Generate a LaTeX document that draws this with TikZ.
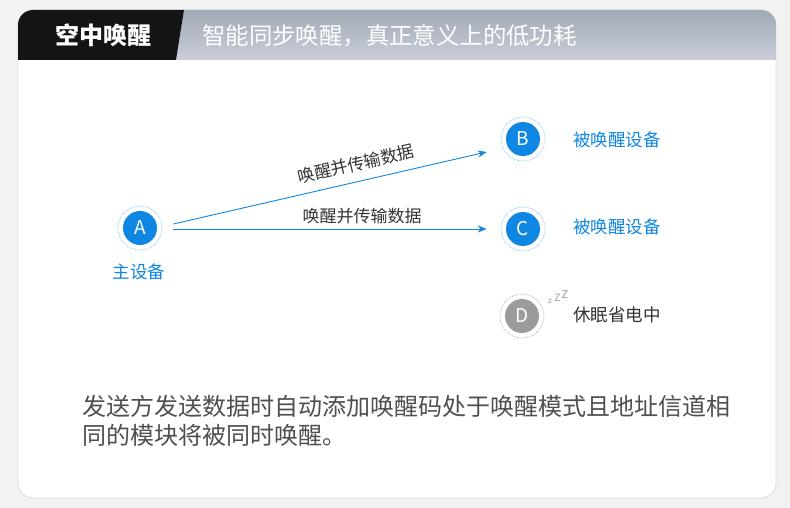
\documentclass[tikz,border=0pt]{standalone}
\usepackage{fontspec}
\setmainfont{Noto Sans CJK SC}
\newfontfamily\cjk{Noto Sans CJK SC}
\usetikzlibrary{arrows.meta,calc}
\definecolor{bgc}{HTML}{F2F2F2}
\definecolor{cardline}{HTML}{DCDCDC}
\definecolor{hdtop}{HTML}{A0A9B5}
\definecolor{hdbot}{HTML}{CACFD9}
\definecolor{blu}{HTML}{0F86E2}
\definecolor{blulite}{HTML}{7CBDF0}
\definecolor{darktxt}{HTML}{333333}
\definecolor{bodytxt}{HTML}{4F4F4F}
\definecolor{sleepc}{HTML}{9B9B9B}
\definecolor{sleepring}{HTML}{A8A8A8}
\tikzset{
  devnode/.style={circle,fill=blu,text=white,minimum size=34pt,inner sep=0pt,font=\fontsize{19}{19}\selectfont},
  ringnode/.style={circle,draw=blulite,densely dotted,line width=0.7pt,minimum size=44pt,inner sep=0pt},
  sleepnode/.style={devnode,fill=sleepc},
  sleepringnode/.style={ringnode,draw=sleepring},
  bluelabel/.style={text=blu,font=\fontsize{17.5}{17.5}\selectfont,inner sep=0pt},
  graylabel/.style={text=darktxt,font=\fontsize{17.5}{17.5}\selectfont,inner sep=0pt},
  arrlabel/.style={text=darktxt,font=\fontsize{17}{17}\selectfont,inner sep=0pt},
  arr/.style={draw=blu,line width=0.9pt,-{Stealth[length=9pt,width=7pt]}},
}
\begin{document}
\begin{tikzpicture}[x=1pt,y=-1pt]
\useasboundingbox (0,0) rectangle (790,508);
\fill[bgc] (0,0) rectangle (790,508);
% card
\draw[cardline,fill=white,line width=0.8pt,rounded corners=15pt] (18,10) rectangle (776,498);
% header gray part
\shade[top color=hdtop,bottom color=hdbot] (184,10) -- (761,10) arc[start angle=270,end angle=360,radius=15] -- (776,60) -- (176,60) -- cycle;
% header black part
\fill[black!92] (18,60) -- (18,25) arc[start angle=180,end angle=270,radius=15] -- (184,10) -- (176,60) -- cycle;
\node[text=white,font=\fontsize{24}{24}\selectfont\bfseries,inner sep=0pt] (title) at (103,35) {空中唤醒};
\node[text=white,font=\fontsize{23.4}{23.4}\selectfont,inner sep=0pt,anchor=west] (subtitle) at (202,36) {智能同步唤醒，真正意义上的低功耗};
% devices
\node[ringnode] (Ar) at (140,228) {};
\node[devnode] (A) at (Ar) {A};
\node[bluelabel] (Alab) at (139,272) {主设备};
\node[ringnode] (Br) at (523,139) {};
\node[devnode] (B) at (Br) {B};
\node[bluelabel,anchor=west] (Blab) at (573,140) {被唤醒设备};
\node[ringnode] (Cr) at (523,229) {};
\node[devnode] (C) at (Cr) {C};
\node[bluelabel,anchor=west] (Clab) at (573,227) {被唤醒设备};
\node[sleepringnode] (Dr) at (522,316) {};
\node[sleepnode] (D) at (Dr) {D};
\node[graylabel,anchor=west] (Dlab) at (573,315) {休眠省电中};
\node[text=sleepc,font=\fontsize{8}{8}\selectfont,inner sep=0pt] (z1) at (550,301) {z};
\node[text=sleepc,font=\fontsize{10}{10}\selectfont,inner sep=0pt] (z2) at (557.5,297.5) {Z};
\node[text=sleepc,font=\fontsize{11}{11}\selectfont,inner sep=0pt] (z3) at (565,294.5) {Z};
% arrows
\draw[arr] ([shift={(11,-4)}]Ar.east) -- ([shift={(-14,13)}]Br.west);
\draw[arr] ([shift={(11,1)}]Ar.east) -- ([shift={(-14,0)}]Cr.west);
\node[arrlabel,rotate=13] (l1) at (356,164) {唤醒并传输数据};
\node[arrlabel] (l2) at (362,216) {唤醒并传输数据};
% body text
\node[text=bodytxt,font=\fontsize{24}{29}\selectfont,anchor=north west,inner sep=0pt,align=left] (body) at (82,395) {发送方发送数据时自动添加唤醒码处于唤醒模式且地址信道相\\同的模块将被同时唤醒。};
\end{tikzpicture}
\end{document}
